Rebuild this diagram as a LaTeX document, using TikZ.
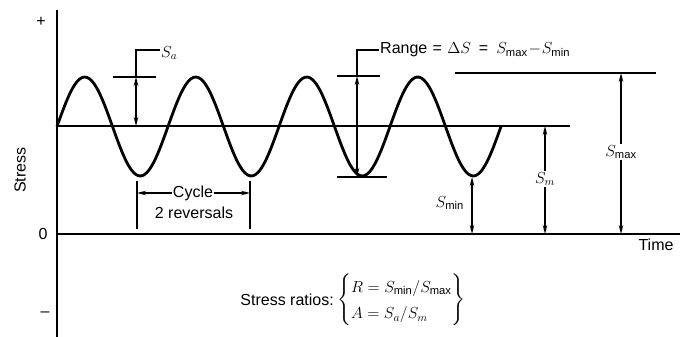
\RequirePackage{fix-cm}
\documentclass[tikz,border=0pt]{standalone}
\usepackage{amsmath}
\usepackage{fontspec}
\setmainfont{Liberation Sans}
\usetikzlibrary{arrows.meta, positioning}

\begin{document}
\begin{tikzpicture}[
    x=1pt, y=-1pt,
    lbl/.style={font=\fontsize{16}{19}\selectfont, inner sep=1pt},
    axis/.style={line width=1.5pt},
    guide/.style={line width=1.2pt},
    wave/.style={line width=2.8pt, line join=round},
    dim/.style={line width=1.2pt, -{Stealth[length=9pt, width=4.5pt]}},
    dimboth/.style={line width=1.2pt, {Stealth[length=9pt, width=4.5pt]}-{Stealth[length=9pt, width=4.5pt]}}
]
\useasboundingbox (0,0) rectangle (680,337);

% Axes
\coordinate (top) at (57,10);
\coordinate (bot) at (57,337);
\coordinate (O) at (57,234);
\coordinate (tend) at (680,234);
\draw[axis] (top) -- (bot);
\draw[axis] (O) -- (tend);
\node[lbl] (plus) at (41,22) {+};
\node[lbl] (zero) at (43,234) {0};
\node[lbl] (minus) at (45,314) {--};
\node[lbl, rotate=90] (stress) at (20,170) {Stress};
\node[lbl] (time) at (656,245) {Time};

% Mean line and stress wave
\coordinate (m0) at (57,126);
\coordinate (m1) at (570,126);
\draw[guide] (m0) -- (m1);
\draw[wave] plot[domain=0:444, samples=180, smooth] ({57+\x}, {126.5-49.5*sin(\x/111*360)});

% Alternating stress
\coordinate (sa-l) at (113,77);
\coordinate (sa-r) at (156,77);
\coordinate (sa-t) at (136,77);
\coordinate (sa-b) at (136,126);
\coordinate (sa-k) at (136,50);
\node[lbl, anchor=west] (sa) at (160,53) {$S_a$};
\draw[guide] (sa-l) -- (sa-r);
\draw[dimboth] (sa-t) -- (sa-b);
\draw[guide] (sa-t) -- (sa-k) -- (sa-k -| sa.west);

% Range
\coordinate (rg-k) at (357,50);
\coordinate (rg-t) at (357,76);
\coordinate (rg-b) at (357,177);
\coordinate (pk-l) at (337,76);
\coordinate (pk-r) at (380,76);
\coordinate (tr-l) at (337,177);
\coordinate (tr-r) at (387,177);
\node[lbl, anchor=west] (range) at (379,50) {Range\,\,=\,\,$\Delta S$\,\,\,=\,\,\,$S_{\text{max}}\!-\!S_{\text{min}}$};
\draw[guide] (pk-l) -- (pk-r);
\draw[guide] (tr-l) -- (tr-r);
\draw[dimboth] (rg-t) -- (rg-b);
\draw[guide] (rg-t) -- (rg-k) -- (rg-k -| range.west);

% Maximum stress
\coordinate (smax-l) at (455,73);
\coordinate (smax-r) at (656,73);
\coordinate (smax-t) at (621,73);
\coordinate (smax-b) at (621,234);
\draw[guide] (smax-l) -- (smax-r);
\node[lbl] (smax) at (621,152) {$S_{\text{max}}$};
\draw[dim] (smax.north) -- (smax-t);
\draw[dim] (smax.south) -- (smax-b);

% Mean stress
\coordinate (sm-t) at (545,126);
\coordinate (sm-b) at (545,234);
\node[lbl] (sm) at (545,179) {$S_m$};
\draw[dim] (sm.north) -- (sm-t);
\draw[dim] (sm.south) -- (sm-b);

% Minimum stress
\coordinate (smin-t) at (472,177);
\coordinate (smin-b) at (472,234);
\node[lbl, anchor=east] (smin) at (465,203) {$S_{\text{min}}$};
\draw[dimboth] (smin-t) -- (smin-b);

% Cycle
\coordinate (c1-t) at (137,181);
\coordinate (c1-b) at (137,229);
\coordinate (c2-t) at (250,181);
\coordinate (c2-b) at (250,229);
\draw[guide] (c1-t) -- (c1-b);
\draw[guide] (c2-t) -- (c2-b);
\node[lbl] (cycle) at (193,193) {Cycle};
\node[lbl] (rev) at (194,213) {2 reversals};
\draw[dim] (cycle.west) -- (cycle.west -| c1-t);
\draw[dim] (cycle.east) -- (cycle.east -| c2-t);

% Stress ratios
\node[lbl, anchor=east] (ratlbl) at (335,300) {Stress ratios:};
\node[lbl, right=1pt of ratlbl] (ratios) {$\renewcommand{\arraystretch}{1.4}\left\{\begin{array}{@{}l@{}}
    R = S_{\text{min}}/S_{\text{max}}\\
    A = S_a/S_m
\end{array}\right\}$};

\end{tikzpicture}
\end{document}
